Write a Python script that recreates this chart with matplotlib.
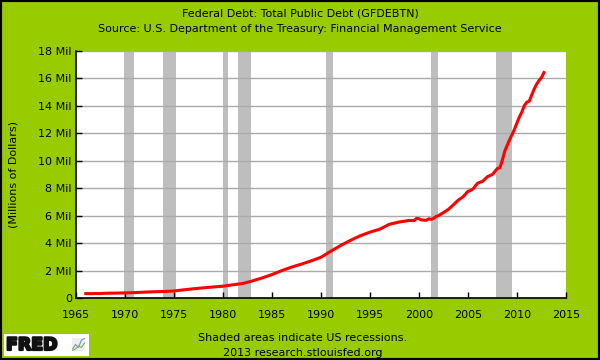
import matplotlib.pyplot as plt
import matplotlib.patheffects as pe
from matplotlib.patches import Rectangle
from matplotlib.font_manager import FontProperties

# dates (decimal years) and total public debt, millions of dollars
years = [1966.0, 1966.5, 1967.0, 1967.5, 1968.0, 1969.0, 1970.0, 1971.0, 1972.0,
         1973.0, 1974.0, 1975.0, 1976.0, 1977.0, 1978.0, 1979.0, 1980.0, 1981.0,
         1982.0, 1983.0, 1984.0, 1985.0, 1986.0, 1987.0, 1988.0, 1989.0, 1990.0,
         1991.0, 1992.0, 1993.0, 1994.0, 1995.0, 1996.0, 1997.0, 1998.0, 1999.0,
         1999.5, 1999.75, 2000.0, 2000.25, 2000.5, 2000.75, 2001.0, 2001.25,
         2001.5, 2001.75, 2002.0, 2002.5, 2003.0, 2003.5, 2004.0, 2004.5, 2005.0,
         2005.25, 2005.5, 2005.75, 2006.0, 2006.5, 2007.0, 2007.5, 2007.75,
         2008.0, 2008.25, 2008.5, 2008.75, 2009.0, 2009.25, 2009.5, 2009.75,
         2010.0, 2010.25, 2010.5, 2010.75, 2011.0, 2011.25, 2011.5, 2011.75,
         2012.0, 2012.25, 2012.5, 2012.75]
debt = [321000, 317000, 329000, 323000, 345000, 356000, 370000, 393000, 427000,
        456000, 474000, 511000, 598000, 672000, 741000, 806000, 858000, 964000,
        1053000, 1244000, 1464000, 1710000, 1998000, 2251000, 2470000, 2707000, 2970000,
        3410000, 3826000, 4198000, 4536000, 4800000, 5017000, 5380000, 5542000, 5652000,
        5638000, 5800000, 5773000, 5686000, 5674000, 5662000, 5773000, 5726000,
        5807000, 5943000, 6006000, 6228000, 6460000, 6783000, 7131000, 7379000, 7776000,
        7836000, 7933000, 8170000, 8371000, 8507000, 8849000, 9008000, 9229000,
        9437000, 9492000, 10025000, 10700000, 11127000, 11545000, 11910000, 12311000,
        12773000, 13202000, 13561000, 14025000, 14270000, 14343000, 14790000, 15223000,
        15582000, 15856000, 16066000, 16433000]

# recessions (start, end)
recessions = [(1969.9, 1970.9), (1973.85, 1975.2), (1980.0, 1980.55),
              (1981.5, 1982.9), (1990.5, 1991.2), (2001.2, 2001.9), (2007.9, 2009.5)]

xticks = list(range(1965, 2016, 5))
yticks = list(range(0, 18000001, 2000000))

green = '#99CC00'
fs = 8

fig = plt.figure(figsize=(6, 3.6), dpi=100)
fig.patch.set_facecolor(green)
fig.patches.append(Rectangle((0, 0), 1, 1, transform=fig.transFigure, fill=False,
                             edgecolor='black', linewidth=3))

ax = fig.add_axes([76 / 600, 1 - 298 / 360, 490 / 600, 247 / 360])
ax.set_facecolor('white')

for s, e in recessions:
    ax.axvspan(s, e, color='#BEBEBE', lw=0, zorder=1)

ax.plot(years, debt, color='red', lw=2.2, zorder=3)

ax.set_xlim(1965, 2015)
ax.set_ylim(0, 18000000)
ax.set_xticks(xticks)
ax.set_yticks(yticks)
ax.set_yticklabels(['0'] + [f'{v // 1000000} Mil' for v in yticks[1:]])
ax.grid(axis='y', color='#AAAAAA', lw=1, zorder=2)
ax.set_axisbelow(False)
ax.tick_params(direction='in', length=4, width=1, color='black', labelsize=fs)
ax.tick_params(axis='y', pad=3)
ax.tick_params(axis='x', pad=9)
for sp in ['top', 'right']:
    ax.spines[sp].set_visible(False)
for sp in ['left', 'bottom']:
    ax.spines[sp].set_linewidth(1.2)
    ax.spines[sp].set_zorder(4)
ax.set_ylabel('(Millions of Dollars)', fontsize=fs, labelpad=14)

fig.text(0.5, 1 - 13 / 360, 'Federal Debt: Total Public Debt (GFDEBTN)', ha='center', va='center', fontsize=fs)
fig.text(0.5, 1 - 29 / 360, 'Source: U.S. Department of the Treasury: Financial Management Service',
         ha='center', va='center', fontsize=fs)
fig.text(303 / 600, 1 - 338 / 360, 'Shaded areas indicate US recessions.', ha='center', va='center', fontsize=fs)
fig.text(303 / 600, 1 - 353 / 360, '2013 research.stlouisfed.org', ha='center', va='center', fontsize=fs)

# FRED logo
fig.patches.append(Rectangle((4 / 600, 1 - 356 / 360), 85 / 600, 22 / 360,
                             transform=fig.transFigure, facecolor='white', edgecolor='none'))
logo_font = FontProperties(family='DejaVu Sans', weight='bold', size=12.5)
fig.text(6 / 600, 1 - 345 / 360, 'FRED', ha='left', va='center',
         fontproperties=logo_font, color='#111111',
         path_effects=[pe.withStroke(linewidth=1.6, foreground='#111111')])
icon = fig.add_axes([72 / 600, 1 - 351 / 360, 13 / 600, 13 / 360])
icon.set_zorder(5)
icon.set_facecolor('#EEEEEE')
icon.plot([0, 1, 2, 3, 4], [0.2, 0.5, 0.3, 0.8, 0.9], color='#6699CC', lw=0.8)
icon.plot([0, 1, 2, 3, 4], [0.1, 0.2, 0.4, 0.3, 0.6], color='#88AA44', lw=0.8)
icon.set_xticks([])
icon.set_yticks([])
for sp in icon.spines.values():
    sp.set_visible(False)

fig.savefig('out.png', dpi=100, facecolor=green)
